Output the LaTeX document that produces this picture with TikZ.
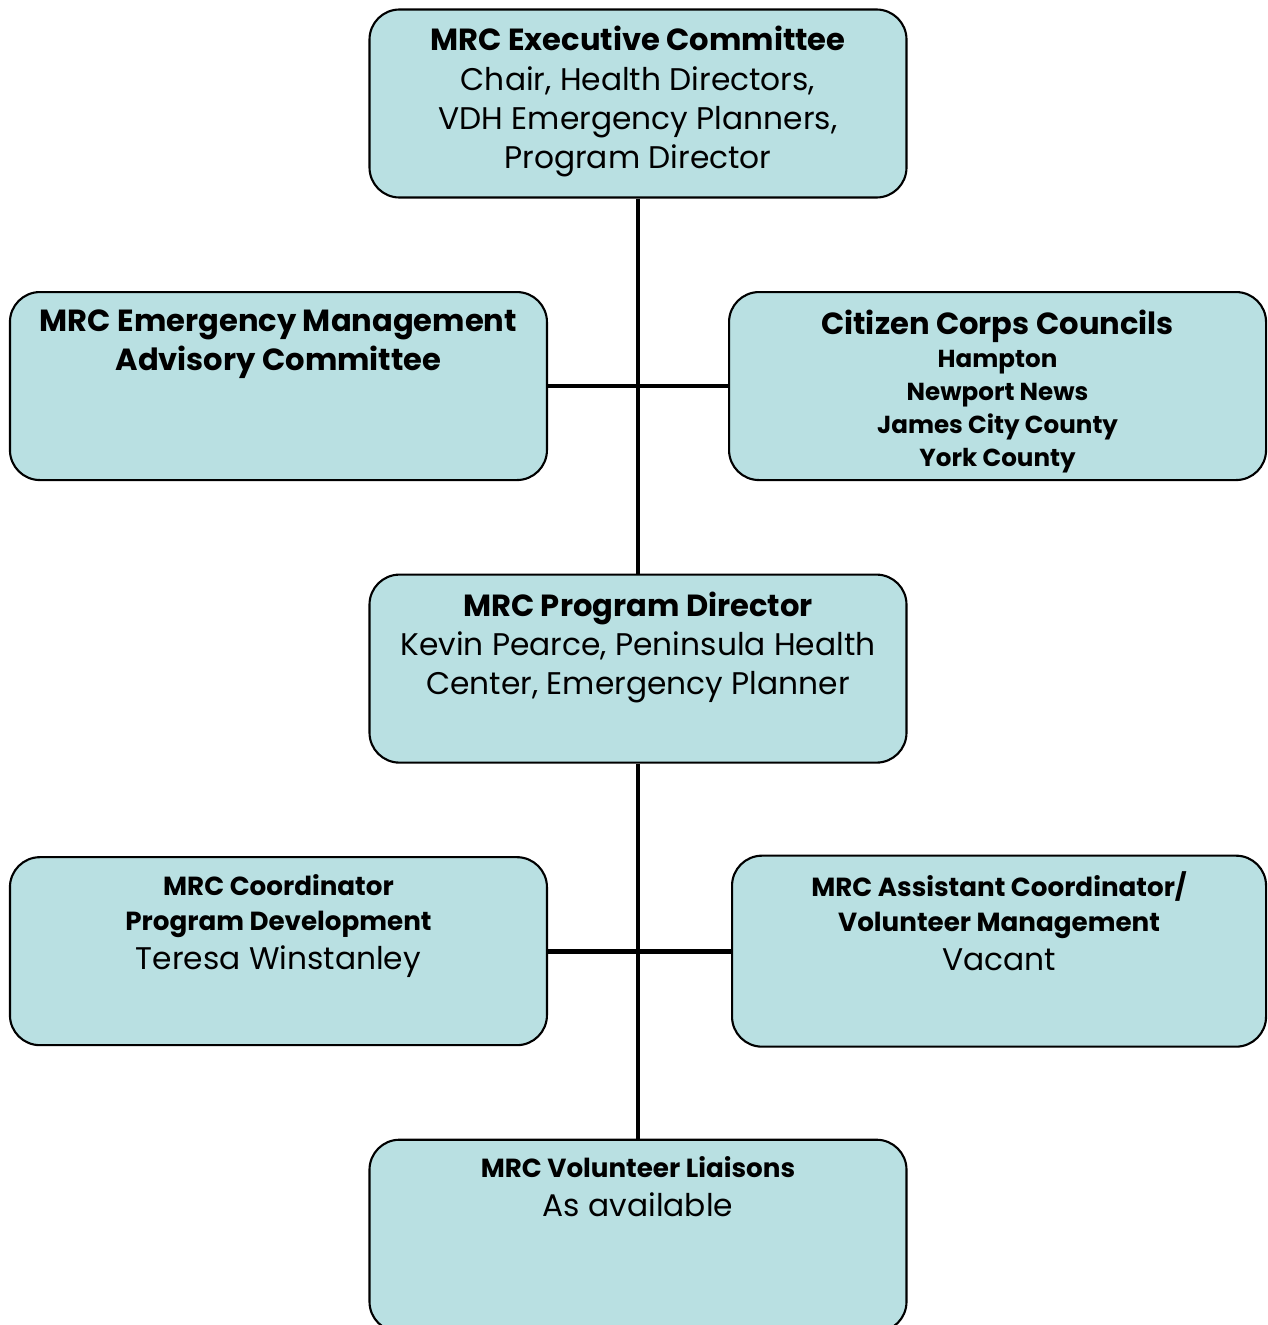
\documentclass[tikz,border=0pt]{standalone}
\usepackage{fontspec}
\setmainfont{Poppins}
\usetikzlibrary{positioning, calc}

\definecolor{boxfill}{HTML}{B9E0E2}
\tikzset{
  orgbox/.style={draw, line width=0.6pt, fill=boxfill, rounded corners=0.3cm,
    inner sep=0pt, minimum width=5.37cm, minimum height=1.88cm},
  link/.style={line width=1.35pt}
}
\newcommand{\boxtext}[2][1.54cm]{\parbox[c][#1][t]{5.3cm}{\centering #2}}
\newcommand{\hd}[1]{{\fontsize{8.7}{11.1}\selectfont\bfseries #1\par}}
\newcommand{\tx}[1]{{\fontsize{8.9}{11.1}\selectfont #1\par}}
\newcommand{\sm}[1]{{\fontsize{7}{9.4}\selectfont\bfseries #1\par}}
\newcommand{\lb}[1]{{\fontsize{7.45}{10}\selectfont\bfseries #1\par}}

\begin{document}
\begin{tikzpicture}
    \useasboundingbox (0,0) rectangle (12.68,-13.25);

    % Top level
    \node[orgbox] (exec) at (6.38,-1.035) {\boxtext{\hd{MRC Executive Committee}
        \tx{Chair, Health Directors,} \tx{VDH Emergency Planners,} \tx{Program Director}}};
    \node[orgbox, below=3.75cm of exec] (pd) {\boxtext{\hd{MRC Program Director}
        \tx{Kevin Pearce, Peninsula Health} \tx{Center, Emergency Planner}}};
    \node[orgbox, below=3.75cm of pd, minimum height=1.92cm] (liaison) {\boxtext[1.58cm]{\lb{MRC Volunteer Liaisons}
        \tx{As available}}};

    % Side boxes
    \coordinate (m1) at ($(exec.south)!0.5!(pd.north)$);
    \coordinate (m2) at ($(pd.south)!0.5!(liaison.north)$);
    \node[orgbox, left=0.9cm of m1] (emac) {\boxtext[1.52cm]{\hd{MRC Emergency Management}
        \hd{Advisory Committee}}};
    \node[orgbox, right=0.9cm of m1] (ccc) {\boxtext[1.52cm]{\hd{Citizen Corps Councils}
        \sm{Hampton} \sm{Newport News} \sm{James City County} \sm{York County}}};
    \node[orgbox, left=0.9cm of m2] (coord) {\boxtext{\lb{MRC Coordinator}
        \lb{Program Development} \tx{Teresa Winstanley}}};
    \node[orgbox, right=0.93cm of m2, minimum width=5.34cm, minimum height=1.91cm] (asst) {\boxtext[1.6cm]{\lb{MRC Assistant Coordinator/}
        \lb{Volunteer Management} \tx{Vacant}}};

    % Connectors
    \draw[link] (exec) -- (pd);
    \draw[link] (pd) -- (liaison);
    \draw[link] (emac) -- (ccc);
    \draw[link] (coord) -- (asst);
\end{tikzpicture}
\end{document}
